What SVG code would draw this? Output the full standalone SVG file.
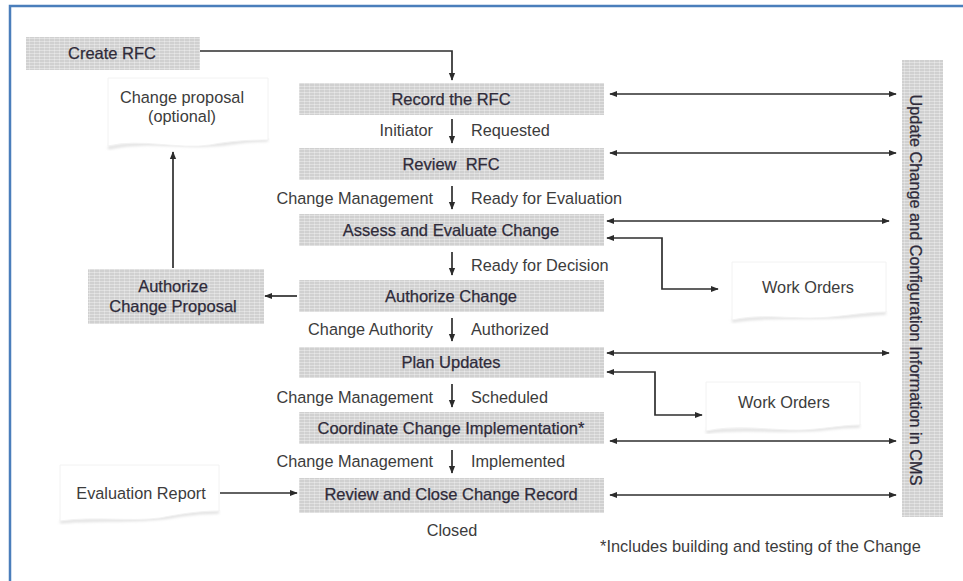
<svg xmlns="http://www.w3.org/2000/svg" width="963" height="581" viewBox="0 0 963 581">
  <defs>
    <!-- halftone-like gray fill used by all process boxes -->
    <pattern id="mesh" width="5" height="3" patternUnits="userSpaceOnUse">
      <rect width="5" height="3" fill="#d0d0d0"/>
      <rect y="2" width="5" height="1" fill="#ececec" opacity="0.55"/>
      <rect x="4" width="1" height="3" fill="#ffffff" opacity="0.25"/>
    </pattern>
    <marker id="arr" viewBox="0 0 10 10" refX="9" refY="5" markerWidth="8" markerHeight="8" orient="auto-start-reverse" markerUnits="userSpaceOnUse">
      <path d="M0,1 L10,5 L0,9 z" fill="#2b2b2b"/>
    </marker>
    <filter id="soft" x="-10%" y="-20%" width="120%" height="150%">
      <feGaussianBlur stdDeviation="1.5"/>
    </filter>
  </defs>
  <style>
    text { font-family: "Liberation Sans", Arial, sans-serif; fill: #3a3a3a; }
    .box { fill: url(#mesh); }
    .bl { font-size: 16.5px; text-anchor: middle; dominant-baseline: central; fill: #2f2b3a; stroke: #2f2b3a; stroke-width: 0.25; }
    .fl { font-size: 16.3px; dominant-baseline: central; fill: #3c3c3c; }
    .end { text-anchor: end; }
    .mid { text-anchor: middle; }
    .doc { fill: #ffffff; stroke: #f2f2f2; stroke-width: 1; }
    .docsh { fill: none; stroke: #d8d8d8; stroke-width: 2.5; filter: url(#soft); }
    .con { fill: none; stroke: #2e2e2e; stroke-width: 1.7; }
  </style>

  <rect width="963" height="581" fill="#ffffff"/>
  <!-- frame -->
  <path d="M10,581 V6 H963" fill="none" stroke="#4a7ebb" stroke-width="2.5"/>

  <!-- start box -->
  <g id="create-rfc">
    <rect class="box" x="26" y="37" width="174" height="33"/>
    <text class="bl" x="112" y="53">Create RFC</text>
  </g>

  <!-- main process column -->
  <g id="record-rfc">
    <rect class="box" x="299" y="83" width="305" height="32"/>
    <text class="bl" x="451" y="99">Record the RFC</text>
  </g>
  <g id="review-rfc">
    <rect class="box" x="299" y="148" width="305" height="32"/>
    <text class="bl" x="451" y="164" xml:space="preserve">Review  RFC</text>
  </g>
  <g id="assess-change">
    <rect class="box" x="299" y="214" width="305" height="32"/>
    <text class="bl" x="451" y="230">Assess and Evaluate Change</text>
  </g>
  <g id="authorize-change">
    <rect class="box" x="299" y="280" width="305" height="32"/>
    <text class="bl" x="451" y="296">Authorize Change</text>
  </g>
  <g id="plan-updates">
    <rect class="box" x="299" y="347" width="305" height="31"/>
    <text class="bl" x="451" y="362">Plan Updates</text>
  </g>
  <g id="coordinate-implementation">
    <rect class="box" x="299" y="412" width="305" height="32"/>
    <text class="bl" x="451" y="428">Coordinate Change Implementation*</text>
  </g>
  <g id="review-close">
    <rect class="box" x="299" y="478" width="305" height="35"/>
    <text class="bl" x="451" y="494">Review and Close Change Record</text>
  </g>

  <!-- CMS column -->
  <g id="update-cms">
    <rect class="box" x="902" y="60" width="41" height="457"/>
    <text class="bl" transform="translate(916,290) rotate(90)" x="0" y="0" style="font-size:16.3px">Update Change and Configuration Information in CMS</text>
  </g>

  <!-- side boxes -->
  <g id="authorize-proposal">
    <rect class="box" x="88" y="269" width="176" height="55"/>
    <text class="bl" x="173" y="286">Authorize</text>
    <text class="bl" x="173" y="306">Change Proposal</text>
  </g>

  <!-- document shapes -->
  <g id="change-proposal">
    <path class="docsh" d="M108,148 C150,138 190,150 230,143 C250,140 262,140 268,140"/>
    <path class="docsh" d="M268,82 V140"/>
    <path class="doc" d="M108,78 H268 V140 C250,140 230,141 210,145 C180,150 140,138 108,146 Z"/>
    <text class="fl mid" x="182" y="97">Change proposal</text>
    <text class="fl mid" x="182" y="116">(optional)</text>
  </g>
  <g id="work-orders-1">
    <path class="docsh" d="M732,321 C770,314 820,320 860,315 C872,314 882,313 886,313"/>
    <path class="docsh" d="M886,266 V313"/>
    <path class="doc" d="M732,262 H886 V312 C860,312 840,318 810,318 C780,318 760,314 732,320 Z"/>
    <text class="fl mid" x="808" y="287">Work Orders</text>
  </g>
  <g id="work-orders-2">
    <path class="docsh" d="M706,432 C740,426 790,434 830,428 C845,426 855,426 860,426"/>
    <path class="docsh" d="M860,386 V426"/>
    <path class="doc" d="M706,382 H860 V425 C840,425 815,431 790,430 C760,429 735,425 706,431 Z"/>
    <text class="fl mid" x="784" y="402">Work Orders</text>
  </g>
  <g id="evaluation-report">
    <path class="docsh" d="M60,522 C100,518 140,523 180,515 C200,512 212,512 219,512"/>
    <path class="docsh" d="M219,469 V512"/>
    <path class="doc" d="M60,465 H219 V511 C200,511 180,514 160,518 C130,522 95,516 60,521 Z"/>
    <text class="fl mid" x="141" y="493">Evaluation Report</text>
  </g>

  <!-- flow labels -->
  <g id="labels">
    <text class="fl end" x="433" y="130">Initiator</text>
    <text class="fl" x="471" y="130">Requested</text>
    <text class="fl end" x="433" y="198">Change Management</text>
    <text class="fl" x="471" y="198">Ready for Evaluation</text>
    <text class="fl" x="471" y="265">Ready for Decision</text>
    <text class="fl end" x="433" y="329">Change Authority</text>
    <text class="fl" x="471" y="329">Authorized</text>
    <text class="fl end" x="433" y="397">Change Management</text>
    <text class="fl" x="471" y="397">Scheduled</text>
    <text class="fl end" x="433" y="461">Change Management</text>
    <text class="fl" x="471" y="461">Implemented</text>
    <text class="fl mid" x="452" y="530">Closed</text>
    <text class="fl" x="600" y="546" style="font-size:16.4px">*Includes building and testing of the Change</text>
  </g>

  <!-- connectors -->
  <g id="connectors">
    <path class="con" d="M200,51 H452 V80" marker-end="url(#arr)"/>
    <path class="con" d="M452,119 V143" marker-end="url(#arr)"/>
    <path class="con" d="M452,186 V209" marker-end="url(#arr)"/>
    <path class="con" d="M452,252 V275" marker-end="url(#arr)"/>
    <path class="con" d="M452,318 V341" marker-end="url(#arr)"/>
    <path class="con" d="M452,384 V407" marker-end="url(#arr)"/>
    <path class="con" d="M452,450 V473" marker-end="url(#arr)"/>

    <path class="con" d="M297,296 H265" marker-end="url(#arr)"/>
    <path class="con" d="M173,268 V152" marker-end="url(#arr)"/>
    <path class="con" d="M220,493 H297" marker-end="url(#arr)"/>

    <path class="con" d="M610,94 H896" marker-start="url(#arr)" marker-end="url(#arr)"/>
    <path class="con" d="M610,153 H896" marker-start="url(#arr)" marker-end="url(#arr)"/>
    <path class="con" d="M607,221 H889" marker-start="url(#arr)" marker-end="url(#arr)"/>
    <path class="con" d="M607,353 H889" marker-start="url(#arr)" marker-end="url(#arr)"/>
    <path class="con" d="M610,441 H896" marker-start="url(#arr)" marker-end="url(#arr)"/>
    <path class="con" d="M610,495 H896" marker-start="url(#arr)" marker-end="url(#arr)"/>

    <path class="con" d="M607,238 H662 V289 H718" marker-start="url(#arr)" marker-end="url(#arr)"/>
    <path class="con" d="M607,372 H655 V415 H702" marker-start="url(#arr)" marker-end="url(#arr)"/>
  </g>
</svg>
